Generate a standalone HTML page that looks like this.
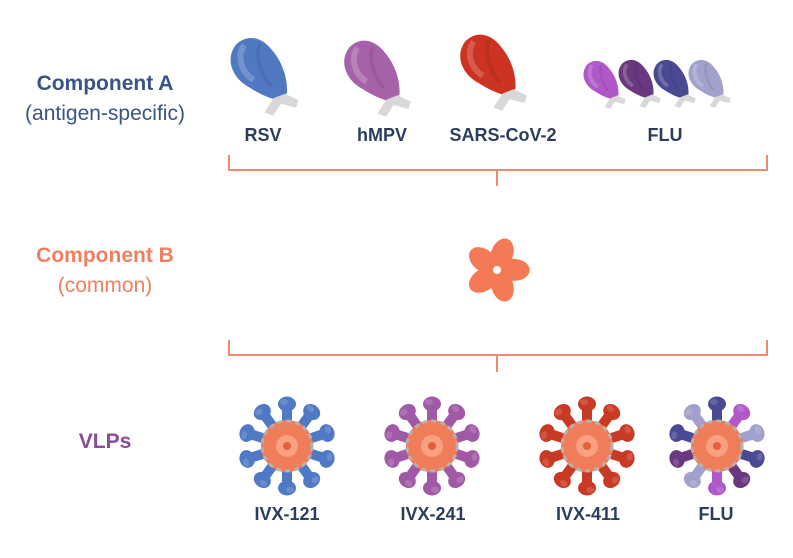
<!DOCTYPE html>
<html><head><meta charset="utf-8"><style>
html,body{margin:0;padding:0;background:#fff;}
svg{display:block;}
text{font-family:"Liberation Sans",Arial,sans-serif;}
</style></head><body>
<svg width="793" height="558" viewBox="0 0 793 558" xmlns="http://www.w3.org/2000/svg">
<defs>
  <g id="spike">
    <rect x="-5" y="-40" width="10" height="24" rx="3" fill="currentColor"/>
    <ellipse cx="0" cy="-42" rx="9" ry="7.5" fill="currentColor"/>
    <ellipse cx="-3" cy="-44" rx="4" ry="3" fill="#fff" opacity="0.15"/>
  </g>
  <g id="core">
    <circle r="26" fill="#ef7d5a"/>
    <circle r="25" fill="none" stroke="#b8b0ac" stroke-width="3" stroke-dasharray="5 4"/>
    <circle r="11" fill="#f8a07f"/>
    <circle r="4" fill="#e2603d"/>
  </g>
  <g id="prot">
    <path d="M-20,-32 C-34,-20 -30,0 -16,12 C-8,20 0,26 8,30 L20,26 C24,12 22,-6 14,-20 C6,-36 -8,-40 -20,-32 Z" fill="currentColor"/>
    <path d="M-12,-30 C-22,-20 -20,-4 -10,6" stroke="#fff" stroke-opacity="0.2" stroke-width="6" fill="none"/>
    <path d="M4,-28 C-4,-18 -2,2 6,16" stroke="#000" stroke-opacity="0.08" stroke-width="4" fill="none"/>
    <path d="M6,28 L-6,40 L2,45 L12,35 L26,42 L30,35 L18,26 Z" fill="#d8d8da"/>
  </g>
</defs>

<!-- Left labels -->
<text x="105" y="90" font-size="21" font-weight="bold" fill="#3a5485" text-anchor="middle">Component A</text>
<text x="105" y="120" font-size="21" fill="#3a5485" text-anchor="middle">(antigen-specific)</text>
<text x="105" y="262" font-size="21" font-weight="bold" fill="#f07f60" text-anchor="middle">Component B</text>
<text x="105" y="292" font-size="21" fill="#f07f60" text-anchor="middle">(common)</text>
<text x="105" y="448" font-size="21" font-weight="bold" fill="#8b4a9a" text-anchor="middle">VLPs</text>

<!-- Proteins -->
<use href="#prot" transform="translate(262,72) rotate(-12) scale(1.0)" style="color:#5179c2"/>
<use href="#prot" transform="translate(375,74) rotate(-12) scale(0.98)" style="color:#a562a8"/>
<use href="#prot" transform="translate(491,68) rotate(-12) scale(0.98)" style="color:#cc3322"/>
<use href="#prot" transform="translate(603,82) rotate(-12) scale(0.62)" style="color:#b058c9"/>
<use href="#prot" transform="translate(638,81) rotate(-12) scale(0.62)" style="color:#6a3880"/>
<use href="#prot" transform="translate(673,81) rotate(-12) scale(0.62)" style="color:#4a4a94"/>
<use href="#prot" transform="translate(708,81) rotate(-12) scale(0.62)" style="color:#a0a2cc"/>

<g font-size="18" font-weight="bold" fill="#2d3e5c" text-anchor="middle">
<text x="263" y="141">RSV</text>
<text x="382" y="141">hMPV</text>
<text x="503" y="141">SARS-CoV-2</text>
<text x="665" y="141">FLU</text>
</g>

<!-- Brackets -->
<g stroke="#ec8a73" stroke-width="2" fill="none">
<path d="M229,155 V170 H767 V155 M497,170 V186"/>
<path d="M229,340 V355 H767 V340 M497,355 V372"/>
</g>

<!-- Component B pinwheel -->
<g transform="translate(497,270)" fill="#f47a55">
  <g transform="rotate(0)"><ellipse cx="5" cy="-16" rx="11" ry="16" transform="rotate(20 5 -16)"/></g>
  <g transform="rotate(72)"><ellipse cx="5" cy="-16" rx="11" ry="16" transform="rotate(20 5 -16)"/></g>
  <g transform="rotate(144)"><ellipse cx="5" cy="-16" rx="11" ry="16" transform="rotate(20 5 -16)"/></g>
  <g transform="rotate(216)"><ellipse cx="5" cy="-16" rx="11" ry="16" transform="rotate(20 5 -16)"/></g>
  <g transform="rotate(288)"><ellipse cx="5" cy="-16" rx="11" ry="16" transform="rotate(20 5 -16)"/></g>
  <circle r="4" fill="#fff"/>
</g>

<!-- VLPs -->
<g transform="translate(287,446)" style="color:#4f79c4">
  <use href="#spike" transform="rotate(0)"/><use href="#spike" transform="rotate(36)"/><use href="#spike" transform="rotate(72)"/><use href="#spike" transform="rotate(108)"/><use href="#spike" transform="rotate(144)"/><use href="#spike" transform="rotate(180)"/><use href="#spike" transform="rotate(216)"/><use href="#spike" transform="rotate(252)"/><use href="#spike" transform="rotate(288)"/><use href="#spike" transform="rotate(324)"/>
  <use href="#core"/>
</g>
<g transform="translate(432,446)" style="color:#a05aa5">
  <use href="#spike" transform="rotate(0)"/><use href="#spike" transform="rotate(36)"/><use href="#spike" transform="rotate(72)"/><use href="#spike" transform="rotate(108)"/><use href="#spike" transform="rotate(144)"/><use href="#spike" transform="rotate(180)"/><use href="#spike" transform="rotate(216)"/><use href="#spike" transform="rotate(252)"/><use href="#spike" transform="rotate(288)"/><use href="#spike" transform="rotate(324)"/>
  <use href="#core"/>
</g>
<g transform="translate(587,446)" style="color:#c93a24">
  <use href="#spike" transform="rotate(0)"/><use href="#spike" transform="rotate(36)"/><use href="#spike" transform="rotate(72)"/><use href="#spike" transform="rotate(108)"/><use href="#spike" transform="rotate(144)"/><use href="#spike" transform="rotate(180)"/><use href="#spike" transform="rotate(216)"/><use href="#spike" transform="rotate(252)"/><use href="#spike" transform="rotate(288)"/><use href="#spike" transform="rotate(324)"/>
  <use href="#core"/>
</g>
<g transform="translate(717,446)">
  <use href="#spike" transform="rotate(0)" style="color:#4a4a94"/><use href="#spike" transform="rotate(36)" style="color:#b058c9"/><use href="#spike" transform="rotate(72)" style="color:#a0a2cc"/><use href="#spike" transform="rotate(108)" style="color:#4a4a94"/><use href="#spike" transform="rotate(144)" style="color:#6a3880"/><use href="#spike" transform="rotate(180)" style="color:#b058c9"/><use href="#spike" transform="rotate(216)" style="color:#a0a2cc"/><use href="#spike" transform="rotate(252)" style="color:#6a3880"/><use href="#spike" transform="rotate(288)" style="color:#4a4a94"/><use href="#spike" transform="rotate(324)" style="color:#a0a2cc"/>
  <use href="#core"/>
</g>

<g font-size="18" font-weight="bold" fill="#2d3e5c" text-anchor="middle">
<text x="287" y="520">IVX-121</text>
<text x="433" y="520">IVX-241</text>
<text x="588" y="520">IVX-411</text>
<text x="716" y="520">FLU</text>
</g>
</svg>
</body></html>
